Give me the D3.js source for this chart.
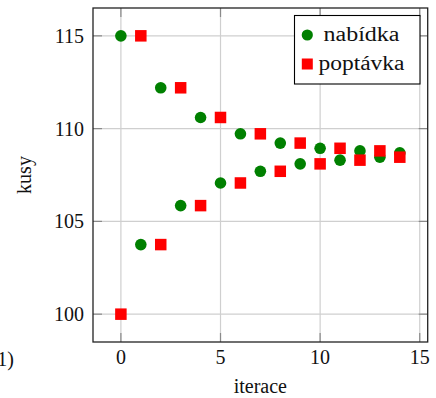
<!DOCTYPE html>
<html>
<head>
<meta charset="utf-8">
<script src="https://d3js.org/d3.v7.min.js"></script>
<style>
  body { margin: 0; background: #fff; }
  svg { display: block; }
</style>
</head>
<body>
<script>
  // iterations 0..14
  const iterations = d3.range(0, 15);
  const nabidka = [115, 103.75, 112.2, 105.85, 110.6, 107.07, 109.72, 107.7, 109.22, 108.1, 108.94, 108.3, 108.8, 108.46, 108.69];
  const poptavka = [100, 115, 103.75, 112.2, 105.85, 110.6, 107.07, 109.72, 107.7, 109.22, 108.1, 108.94, 108.3, 108.8, 108.46];
  const xTicks = [0, 5, 10, 15];
  const yTicks = [100, 105, 110, 115];
  const seriesNames = ['nabídka', 'poptávka'];

  const width = 436, height = 398;
  const mLeft = 93, mRight = 427.7, mTop = 8, mBottom = 342;
  const FONT = 'Liberation Serif';

  const svg = d3.select('body').append('svg')
    .attr('width', width)
    .attr('height', height);

  const x = d3.scaleLinear().domain([-1.4, 15.4]).range([mLeft, mRight]);
  const y = d3.scaleLinear().domain([98.5, 116.5]).range([mBottom, mTop]);

  function label(sel) {
    return sel.attr('font-family', FONT).attr('font-size', 20).attr('fill', '#111');
  }

  // grid
  const grid = svg.append('g').attr('stroke', '#cfcfcf').attr('stroke-width', 1.2);
  grid.selectAll('line.gx').data(xTicks).join('line')
    .attr('x1', d => x(d)).attr('x2', d => x(d))
    .attr('y1', mTop).attr('y2', mBottom);
  grid.selectAll('line.gy').data(yTicks).join('line')
    .attr('x1', mLeft).attr('x2', mRight)
    .attr('y1', d => y(d)).attr('y2', d => y(d));

  // inner tick marks on all four sides
  const tl = 9;
  const ticks = svg.append('g').attr('stroke', '#8a8a8a').attr('stroke-width', 1.2);
  xTicks.forEach(t => {
    ticks.append('line').attr('x1', x(t)).attr('x2', x(t)).attr('y1', mBottom).attr('y2', mBottom - tl);
    ticks.append('line').attr('x1', x(t)).attr('x2', x(t)).attr('y1', mTop).attr('y2', mTop + tl);
  });
  yTicks.forEach(t => {
    ticks.append('line').attr('x1', mLeft).attr('x2', mLeft + tl).attr('y1', y(t)).attr('y2', y(t));
    ticks.append('line').attr('x1', mRight).attr('x2', mRight - tl).attr('y1', y(t)).attr('y2', y(t));
  });

  // frame
  svg.append('rect')
    .attr('x', mLeft).attr('y', mTop)
    .attr('width', mRight - mLeft).attr('height', mBottom - mTop)
    .attr('fill', 'none').attr('stroke', '#222').attr('stroke-width', 1.3);

  // tick labels
  svg.selectAll('text.xt').data(xTicks).join('text')
    .attr('x', d => x(d)).attr('y', 364)
    .attr('text-anchor', 'middle')
    .call(label)
    .text(d => d);
  svg.selectAll('text.yt').data(yTicks).join('text')
    .attr('x', 84).attr('y', d => y(d) + 7)
    .attr('text-anchor', 'end')
    .call(label)
    .text(d => d);

  // axis labels
  svg.append('text')
    .attr('x', (mLeft + mRight) / 2).attr('y', 393)
    .attr('text-anchor', 'middle')
    .call(label)
    .text('iterace');
  svg.append('text')
    .attr('transform', `translate(31,${(mTop + mBottom) / 2}) rotate(-90)`)
    .attr('text-anchor', 'middle')
    .call(label)
    .text('kusy');

  // subfigure label, cut by the left edge as in the source
  svg.append('text')
    .attr('x', 14).attr('y', 366)
    .attr('text-anchor', 'end')
    .call(label)
    .text('(1)');

  // markers
  svg.append('g').selectAll('circle').data(iterations).join('circle')
    .attr('cx', d => x(d)).attr('cy', d => y(nabidka[d]))
    .attr('r', 5.8)
    .attr('fill', '#008000');
  const s = 11.5;
  svg.append('g').selectAll('rect').data(iterations).join('rect')
    .attr('x', d => x(d) - s / 2).attr('y', d => y(poptavka[d]) - s / 2)
    .attr('width', s).attr('height', s)
    .attr('fill', '#ff0000');

  // legend
  const lg = svg.append('g');
  lg.append('rect')
    .attr('x', 294.5).attr('y', 15.5)
    .attr('width', 125.5).attr('height', 68.5)
    .attr('fill', '#fff').attr('stroke', '#000').attr('stroke-width', 1.1);
  lg.append('circle').attr('cx', 307.3).attr('cy', 35).attr('r', 5.6).attr('fill', '#008000');
  lg.append('rect').attr('x', 307.3 - 5.5).attr('y', 64 - 5.5).attr('width', 11).attr('height', 11).attr('fill', '#ff0000');
  lg.append('text').attr('x', 323.5).attr('y', 41).call(label)
    .attr('textLength', 76).attr('lengthAdjust', 'spacingAndGlyphs')
    .text(seriesNames[0]);
  lg.append('text').attr('x', 318.5).attr('y', 70).call(label)
    .attr('textLength', 86).attr('lengthAdjust', 'spacingAndGlyphs')
    .text(seriesNames[1]);
</script>
</body>
</html>
